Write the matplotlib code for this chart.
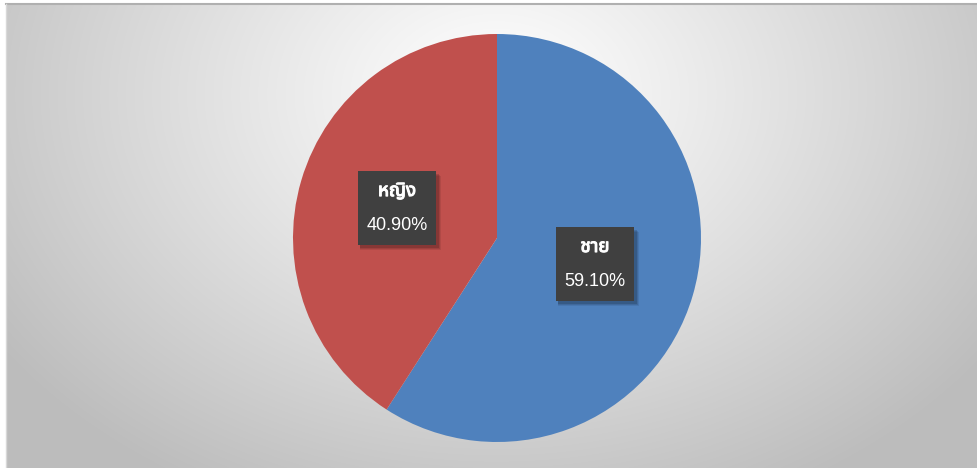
import numpy as np
import matplotlib
matplotlib.use("Agg")
import matplotlib.pyplot as plt
from matplotlib.patches import Rectangle
import matplotlib.patheffects as pe

categories = ["ชาย", "หญิง"]
values = [59.10, 40.90]
pct_labels = ["59.10%", "40.90%"]
colors = ["#4F81BD", "#C0504D"]

W, H = 978, 468
fig = plt.figure(figsize=(W / 100, H / 100), dpi=100)
fig.patch.set_facecolor("white")

# background radial gradient panel
bg = fig.add_axes([6 / W, 0, 1 - 6 / W, 1 - 4 / H])
bg.set_axis_off()
yy, xx = np.mgrid[0:464, 0:972]
cx, cy = 490, 90
d = np.sqrt(((xx - cx) / 600.0) ** 2 + ((yy - cy) / 450.0) ** 2)
d = np.clip(d, 0, 1)
v = 1.0 - 0.26 * d ** 1.1
img = np.dstack([v, v, v])
bg.imshow(img, aspect="auto", extent=[0, 1, 0, 1], interpolation="bilinear")
bg.set_xlim(0, 1)
bg.set_ylim(0, 1)
bg.plot([0, 1], [1, 1], color="#b0b0b0", lw=1.5, transform=bg.transAxes, clip_on=False)
bg.plot([0, 0], [0, 1], color="#d8d8d8", lw=1.0, transform=bg.transAxes, clip_on=False)

# pie
r = 204
cxp, cyp = 497, 238
ax = fig.add_axes([(cxp - r) / W, (H - cyp - r) / H, 2 * r / W, 2 * r / H])
ax.pie(values, colors=colors, startangle=90, counterclock=False,
       wedgeprops=dict(linewidth=0))
ax.set_xlim(-1, 1)
ax.set_ylim(-1, 1)
ax.set_aspect("auto")
ax.set_axis_off()

# label boxes (pixel coordinates of box centres)
box_pos = [(595, 264), (397, 208)]
bw, bh = 78, 74
thai_fam = ["Noto Sans Thai", "Tahoma", "Leelawadee UI", "DejaVu Sans", "Noto Sans"]
for (bx, by), cat, pct in zip(box_pos, categories, pct_labels):
    x0 = (bx - bw / 2) / W
    y0 = (H - by - bh / 2) / H
    for k, a in [(5, 0.08), (4, 0.10), (3, 0.14)]:
        shadow = Rectangle((x0 + 2 / W, y0 - k / H), (bw + k - 2) / W, bh / H,
                           transform=fig.transFigure, facecolor="#000000", alpha=a,
                           edgecolor="none", zorder=5)
        fig.add_artist(shadow)
    box = Rectangle((x0, y0), bw / W, bh / H, transform=fig.transFigure,
                    facecolor="#404040", edgecolor="none", zorder=6)
    fig.add_artist(box)
    t = fig.text(bx / W, (H - by + 17) / H, cat, ha="center", va="center", color="white",
                 fontsize=13.5, fontweight="bold", family=thai_fam, zorder=7)
    t.set_path_effects([pe.withStroke(linewidth=0.8, foreground="white")])
    fig.text(bx / W, (H - by - 18) / H, pct, ha="center", va="center", color="white",
             fontsize=13, family=["Liberation Sans", "DejaVu Sans"], zorder=7)

fig.savefig("out.png", dpi=100)
